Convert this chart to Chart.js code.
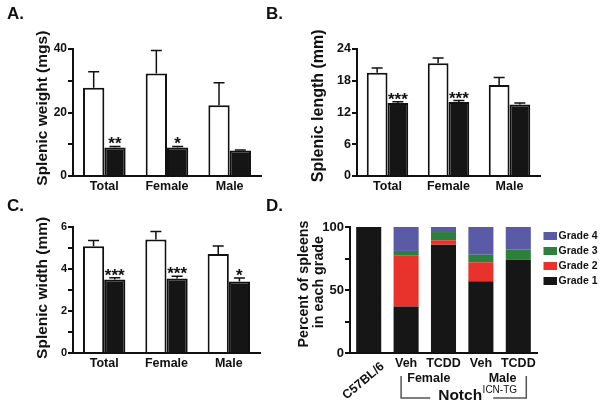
<!DOCTYPE html>
<html>
<head>
<meta charset="utf-8">
<script src="https://cdn.jsdelivr.net/npm/chart.js@4.4.0/dist/chart.umd.min.js"></script>
<style>
  html, body { margin: 0; padding: 0; background: #fff; }
  #wrap { position: relative; width: 602px; height: 407px; overflow: hidden; }
  #wrap canvas { position: absolute; left: 0; top: 0; width: 602px; height: 407px; }
</style>
</head>
<body>
<div id="wrap">
  <canvas id="cA" width="602" height="407"></canvas>
  <canvas id="cB" width="602" height="407"></canvas>
  <canvas id="cC" width="602" height="407"></canvas>
  <canvas id="cD" width="602" height="407"></canvas>
</div>
<script>
// ---------- data ----------
const groups = ["Total", "Female", "Male"];

const weightVeh = [27.8, 32.3, 22.3];
const weightVehSem = [5.0, 7.2, 7.1];
const weightTcdd = [9.0, 9.0, 8.0];
const weightTcddSem = [0.3, 0.3, 0.2];
const weightStars = ["**", "*", ""];

const lengthVeh = [19.5, 21.3, 17.2];
const lengthVehSem = [0.9, 1.0, 1.4];
const lengthTcdd = [13.8, 14.0, 13.5];
const lengthTcddSem = [0.25, 0.25, 0.3];
const lengthStars = ["***", "***", ""];

const widthVeh = [5.08, 5.4, 4.72];
const widthVehSem = [0.28, 0.38, 0.37];
const widthTcdd = [3.5, 3.55, 3.41];
const widthTcddSem = [0.08, 0.1, 0.16];
const widthStars = ["***", "***", "*"];

const gradeGroups = ["C57BL/6", "Veh", "TCDD", "Veh", "TCDD"];
const gradeNames = ["Grade 1", "Grade 2", "Grade 3", "Grade 4"];
const grade1Pct = [100, 37, 86, 57, 74];
const grade2Pct = [0, 40.5, 3.5, 15, 0];
const grade3Pct = [0, 3.5, 6.5, 6, 8];
const grade4Pct = [0, 19, 4, 22, 18];
const gradeColors = ["#161616", "#e8332c", "#2d7f3c", "#5a5aa6"];

const FONT = "'Liberation Sans', Arial, Helvetica, sans-serif";
Chart.defaults.font.family = FONT;
Chart.defaults.font.weight = "bold";
Chart.defaults.color = "#111";

// ---------- plugins ----------
const panelLabel = {
  id: "panelLabel",
  afterDraw(chart, args, opts) {
    const ctx = chart.ctx;
    ctx.save();
    ctx.font = "bold 17px " + FONT;
    ctx.fillStyle = "#111";
    ctx.textBaseline = "middle";
    ctx.fillText(opts.text, opts.x, opts.y);
    ctx.restore();
  }
};

const errorBars = {
  id: "errorBars",
  afterDatasetsDraw(chart) {
    const ctx = chart.ctx;
    const y = chart.scales.y;
    chart.data.datasets.forEach((ds, i) => {
      if (!ds.sem) return;
      chart.getDatasetMeta(i).data.forEach((bar, j) => {
        const top = y.getPixelForValue(ds.data[j] + ds.sem[j]);
        ctx.save();
        ctx.strokeStyle = "#111";
        ctx.lineWidth = 1.5;
        ctx.beginPath();
        ctx.moveTo(bar.x, bar.y);
        ctx.lineTo(bar.x, top);
        ctx.moveTo(bar.x - 5.5, top);
        ctx.lineTo(bar.x + 5.5, top);
        ctx.stroke();
        if (ds.stars && ds.stars[j]) {
          ctx.font = "bold 17px " + FONT;
          ctx.fillStyle = "#111";
          ctx.textAlign = "center";
          ctx.textBaseline = "alphabetic";
          ctx.fillText(ds.stars[j], bar.x, top + 3);
        }
        ctx.restore();
      });
    });
  }
};

function barPanel(id, p) {
  return new Chart(document.getElementById(id), {
    type: "bar",
    data: {
      labels: groups,
      datasets: [
        { label: "Vehicle", data: p.veh, sem: p.vehSem, backgroundColor: "#fff", borderColor: "#111", borderWidth: 2 },
        { label: "TCDD", data: p.tcdd, sem: p.tcddSem, stars: p.stars, backgroundColor: "#151515", borderColor: "#111", borderWidth: 2 }
      ]
    },
    options: {
      responsive: false,
      animation: false,
      events: [],
      layout: { padding: p.pad },
      datasets: { bar: { categoryPercentage: 0.68, barPercentage: 1 } },
      plugins: {
        legend: { display: false },
        tooltip: { enabled: false },
        panelLabel: p.label
      },
      scales: {
        x: {
          grid: { display: false, drawTicks: false },
          border: { display: true, color: "#111", width: 2 },
          ticks: { font: { size: 12.5, weight: "bold" }, padding: 3, maxRotation: 0, autoSkip: false },
          afterFit: s => { s.height = 24; }
        },
        y: {
          min: 0,
          max: p.max,
          ticks: {
            stepSize: p.step,
            callback: v => (v % p.labelStep === 0 ? v : ""),
            font: { size: p.tickSize, weight: "bold" },
            padding: 1
          },
          grid: { drawOnChartArea: false, drawTicks: true, tickLength: 5, color: "#111", lineWidth: 2 },
          border: { color: "#111", width: 2 },
          title: {
            display: true,
            text: p.title,
            font: { size: p.titleSize, weight: "bold" },
            padding: { top: p.titlePad, bottom: 0 }
          },
          afterFit: s => { s.width = p.yw; }
        }
      }
    },
    plugins: [errorBars, panelLabel]
  });
}

barPanel("cA", {
  veh: weightVeh, vehSem: weightVehSem, tcdd: weightTcdd, tcddSem: weightTcddSem, stars: weightStars,
  pad: { left: 25, top: 49, right: 341, bottom: 207 }, yw: 48,
  max: 40, step: 10, labelStep: 20, tickSize: 12,
  title: "  Splenic weight (mgs)", titleSize: 15.5, titlePad: 8.5,
  label: { text: "A.", x: 7, y: 14 }
});

barPanel("cB", {
  veh: lengthVeh, vehSem: lengthVehSem, tcdd: lengthTcdd, tcddSem: lengthTcddSem, stars: lengthStars,
  pad: { left: 300, top: 49, right: 62, bottom: 207 }, yw: 57,
  max: 24, step: 3, labelStep: 6, tickSize: 12.5,
  title: "   Splenic length (mm)", titleSize: 16, titlePad: 9,
  label: { text: "B.", x: 266, y: 14 }
});

barPanel("cC", {
  veh: widthVeh, vehSem: widthVehSem, tcdd: widthTcdd, tcddSem: widthTcddSem, stars: widthStars,
  pad: { left: 25, top: 227, right: 342, bottom: 30 }, yw: 48,
  max: 6, step: 1, labelStep: 2, tickSize: 11,
  title: " Splenic width (mm)", titleSize: 15.5, titlePad: 8.5,
  label: { text: "C.", x: 7, y: 206 }
});

// ---------- panel D ----------
const gradeExtras = {
  id: "gradeExtras",
  afterDraw(chart) {
    const ctx = chart.ctx;
    const x = chart.scales.x;
    const area = chart.chartArea;
    ctx.save();
    ctx.fillStyle = "#111";

    // rotated control label
    ctx.save();
    ctx.font = "bold 12.5px " + FONT;
    ctx.translate(x.getPixelForValue(0) + 14, area.bottom + 12);
    ctx.rotate(-40 * Math.PI / 180);
    ctx.textAlign = "right";
    ctx.textBaseline = "middle";
    ctx.fillText(gradeGroups[0], 0, 0);
    ctx.restore();

    // sex labels
    ctx.font = "bold 12.5px " + FONT;
    ctx.textAlign = "center";
    ctx.textBaseline = "middle";
    ctx.fillText("Female", x.getPixelForValue(1.5) + 4, area.bottom + 26);
    ctx.fillText("Male", x.getPixelForValue(3.5) + 3, area.bottom + 26);

    // bracket
    const bl = x.getPixelForValue(1) - 5;
    const br = x.getPixelForValue(4) + 8;
    const bt = area.bottom + 23;
    const bb = area.bottom + 45;
    const nx = x.getPixelForValue(2.5) - 24;
    ctx.strokeStyle = "#555";
    ctx.lineWidth = 1.5;
    ctx.beginPath();
    ctx.moveTo(bl, bt); ctx.lineTo(bl, bb); ctx.lineTo(nx - 8, bb);
    ctx.moveTo(nx + 55, bb); ctx.lineTo(br, bb); ctx.lineTo(br, bt);
    ctx.stroke();

    // Notch ICN-TG
    ctx.textAlign = "left";
    ctx.textBaseline = "alphabetic";
    ctx.font = "bold 15.5px " + FONT;
    ctx.fillText("Notch", nx, area.bottom + 47);
    const w = ctx.measureText("Notch").width;
    ctx.font = "normal 10px " + FONT;
    ctx.fillText("ICN-TG", nx + w + 0.5, area.bottom + 40);

    // legend
    ctx.font = "bold 10.5px " + FONT;
    ctx.textBaseline = "middle";
    for (let k = chart.data.datasets.length - 1; k >= 0; k--) {
      const ds = chart.data.datasets[k];
      const yy = area.top + 9 + (chart.data.datasets.length - 1 - k) * 15;
      ctx.fillStyle = ds.backgroundColor;
      ctx.fillRect(area.right + 6.5, yy - 4, 13.5, 8);
      ctx.fillStyle = "#111";
      ctx.fillText(ds.label, area.right + 21.5, yy);
    }
    ctx.restore();
  }
};

new Chart(document.getElementById("cD"), {
  type: "bar",
  data: {
    labels: gradeGroups,
    datasets: [grade1Pct, grade2Pct, grade3Pct, grade4Pct].map((d, i) => ({
      label: gradeNames[i],
      data: d,
      backgroundColor: gradeColors[i],
      borderWidth: 0
    }))
  },
  options: {
    responsive: false,
    animation: false,
    events: [],
    layout: { padding: { left: 290, top: 227, right: 65, bottom: 34 } },
    datasets: { bar: { categoryPercentage: 1, barPercentage: 0.67 } },
    plugins: {
      legend: { display: false },
      tooltip: { enabled: false },
      panelLabel: { text: "D.", x: 266, y: 206 }
    },
    scales: {
      x: {
        stacked: true,
        grid: { display: false, drawTicks: false },
        border: { display: true, color: "#111", width: 2 },
        ticks: {
          font: { size: 12.5, weight: "bold" },
          padding: 3,
          maxRotation: 0,
          autoSkip: false,
          callback: (v, i) => (i === 0 ? "" : gradeGroups[i])
        },
        afterFit: s => { s.height = 20; }
      },
      y: {
        stacked: true,
        min: 0,
        max: 100,
        ticks: {
          stepSize: 25,
          callback: v => (v % 50 === 0 ? v : ""),
          font: { size: 13, weight: "bold" },
          padding: 1
        },
        grid: { drawOnChartArea: false, drawTicks: true, tickLength: 5, color: "#111", lineWidth: 2 },
        border: { color: "#111", width: 2 },
        title: {
          display: true,
          text: ["   Percent of spleens", "    in each grade"],
          font: { size: 14.3, weight: "bold", lineHeight: 1.03 },
          padding: { top: 6.5, bottom: 0 }
        },
        afterFit: s => { s.width = 60; }
      }
    }
  },
  plugins: [gradeExtras, panelLabel]
});
</script>
</body>
</html>
